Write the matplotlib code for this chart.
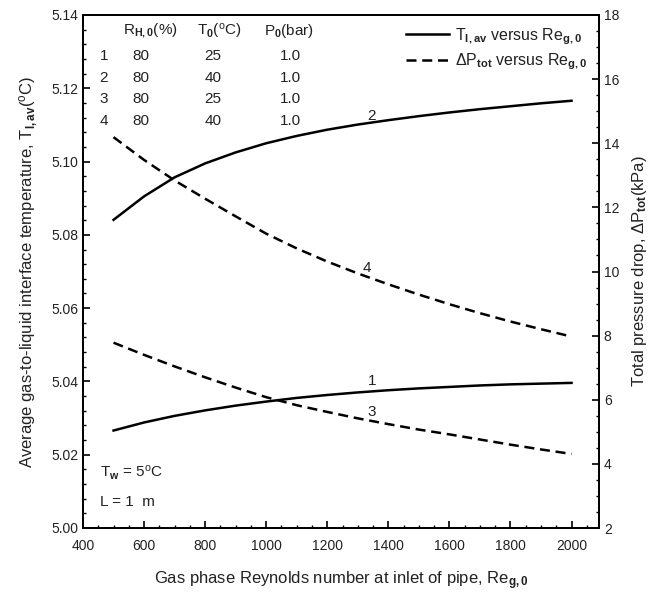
import matplotlib
matplotlib.use("Agg")
import matplotlib.pyplot as plt
from matplotlib.ticker import MultipleLocator, FormatStrFormatter
from matplotlib.lines import Line2D

plt.rcParams['font.family'] = ['Liberation Sans', 'DejaVu Sans']
plt.rcParams['mathtext.fontset'] = 'custom'
plt.rcParams['mathtext.rm'] = 'Liberation Sans'
plt.rcParams['mathtext.it'] = 'Liberation Sans'
plt.rcParams['mathtext.bf'] = 'Liberation Sans:bold'

# Data
re_g0 = [500, 600, 700, 800, 900, 1000, 1100, 1200, 1300, 1400, 1500, 1600, 1700, 1800, 1900, 2000]
T_case1 = [5.0266, 5.0288, 5.0306, 5.0321, 5.0334, 5.0345, 5.0355, 5.0363, 5.0370, 5.0376,
           5.0381, 5.0385, 5.0389, 5.0392, 5.0394, 5.0396]
T_case2 = [5.0841, 5.0905, 5.0957, 5.0995, 5.1025, 5.1050, 5.1070, 5.1087, 5.1101, 5.1113,
           5.1124, 5.1134, 5.1143, 5.1151, 5.1159, 5.1166]
P_case3 = [7.78, 7.40, 7.04, 6.70, 6.38, 6.08, 5.83, 5.62, 5.42, 5.24,
           5.07, 4.92, 4.76, 4.60, 4.45, 4.31]
P_case4 = [14.19, 13.48, 12.84, 12.27, 11.72, 11.18, 10.72, 10.31, 9.94, 9.60,
           9.28, 8.98, 8.70, 8.44, 8.20, 7.97]

cases = ['1', '2', '3', '4']
rh0 = ['80', '80', '80', '80']
t0 = ['25', '40', '25', '40']
p0 = ['1.0', '1.0', '1.0', '1.0']

fig = plt.figure(figsize=(6.53, 5.99), dpi=100)
ax = fig.add_axes([83/653, 1-528/599, (599-83)/653, (528-15)/599])
ax2 = ax.twinx()

lw = 1.8
dash = (0, (4, 2.3))
ax.plot(re_g0, T_case1, color='black', lw=lw)
ax.plot(re_g0, T_case2, color='black', lw=lw)
ax2.plot(re_g0, P_case3, color='black', lw=lw, ls=dash)
ax2.plot(re_g0, P_case4, color='black', lw=lw, ls=dash)

ax.set_xlim(400, 2090)
ax.set_ylim(5.00, 5.14)
ax2.set_ylim(2, 18)

ax.xaxis.set_major_locator(MultipleLocator(200))
ax.xaxis.set_minor_locator(MultipleLocator(50))
ax.yaxis.set_major_locator(MultipleLocator(0.02))
ax.yaxis.set_minor_locator(MultipleLocator(0.004))
ax2.yaxis.set_major_locator(MultipleLocator(2))
ax2.yaxis.set_minor_locator(MultipleLocator(0.5))
ax.yaxis.set_major_formatter(FormatStrFormatter('%.2f'))

tc = '#222222'
ax.tick_params(which='major', direction='in', length=5, width=1.2, labelsize=10, colors='black', labelcolor=tc)
ax.tick_params(which='minor', direction='in', length=2.5, width=1.0)
ax.tick_params(axis='x', pad=8)
ax2.tick_params(which='major', direction='in', length=5, width=1.2, labelsize=10, labelcolor=tc)
ax2.tick_params(which='minor', direction='in', length=2.5, width=1.0)
for s in ax.spines.values():
    s.set_linewidth(1.3)
for s in ax2.spines.values():
    s.set_linewidth(1.3)

ax.set_xlabel(r'Gas phase Reynolds number at inlet of pipe, Re$_{\mathbf{g,0}}$', fontsize=12, color=tc, labelpad=12)
ax.set_ylabel(r'Average gas-to-liquid interface temperature, T$_{\mathbf{I,av}}$($^{\rm o}$C)', fontsize=12, color=tc, labelpad=8)
ax2.set_ylabel(r'Total pressure drop, $\Delta$P$_{\mathbf{tot}}$(kPa)', fontsize=12, color=tc, labelpad=8)

# Parameter table
def px2ax(x, y):
    return ((x - 83) / (599 - 83), (528 - y) / (528 - 15))

fs = 11
for txt, xp in [(r'R$_{\mathbf{H,0}}$(%)', 123), (r'T$_{\mathbf{0}}$($^{\rm o}$C)', 197), (r'P$_{\mathbf{0}}$(bar)', 264)]:
    ax.text(*px2ax(xp, 31), txt, transform=ax.transAxes, fontsize=fs, va='center', ha='left', color=tc)
rows_y = [56, 78, 99, 121]
for i in range(4):
    ax.text(*px2ax(104, rows_y[i]), cases[i], transform=ax.transAxes, fontsize=fs, va='center', ha='center', color=tc)
    ax.text(*px2ax(141, rows_y[i]), rh0[i], transform=ax.transAxes, fontsize=fs, va='center', ha='center', color=tc)
    ax.text(*px2ax(213, rows_y[i]), t0[i], transform=ax.transAxes, fontsize=fs, va='center', ha='center', color=tc)
    ax.text(*px2ax(290, rows_y[i]), p0[i], transform=ax.transAxes, fontsize=fs, va='center', ha='center', color=tc)

# Legend
handles = [Line2D([], [], color='black', lw=lw),
           Line2D([], [], color='black', lw=lw, ls=dash)]
labels = [r'T$_{\mathbf{I,av}}$ versus Re$_{\mathbf{g,0}}$', r'$\Delta$P$_{\mathbf{tot}}$ versus Re$_{\mathbf{g,0}}$']
leg = ax.legend(handles, labels, loc='upper right', frameon=False, fontsize=11.5,
                handlelength=2.7, handletextpad=0.4, borderaxespad=0.3, labelspacing=0.3,
                bbox_to_anchor=(1.0, 1.0))
for t in leg.get_texts():
    t.set_color(tc)

# Curve labels
for lbl, (xp, yp) in [('2', (372, 116)), ('4', (367, 268)), ('1', (372, 381)), ('3', (372, 412))]:
    ax.text(*px2ax(xp, yp), lbl, transform=ax.transAxes, fontsize=11, ha='center', va='center', color=tc)

ax.text(*px2ax(100, 473), r'T$_{\mathbf{w}}$ = 5$^{\rm o}$C', transform=ax.transAxes, fontsize=11, va='center', ha='left', color=tc)
ax.text(*px2ax(100, 502), 'L = 1  m', transform=ax.transAxes, fontsize=11, va='center', ha='left', color=tc)

fig.savefig('out.png', dpi=100)
